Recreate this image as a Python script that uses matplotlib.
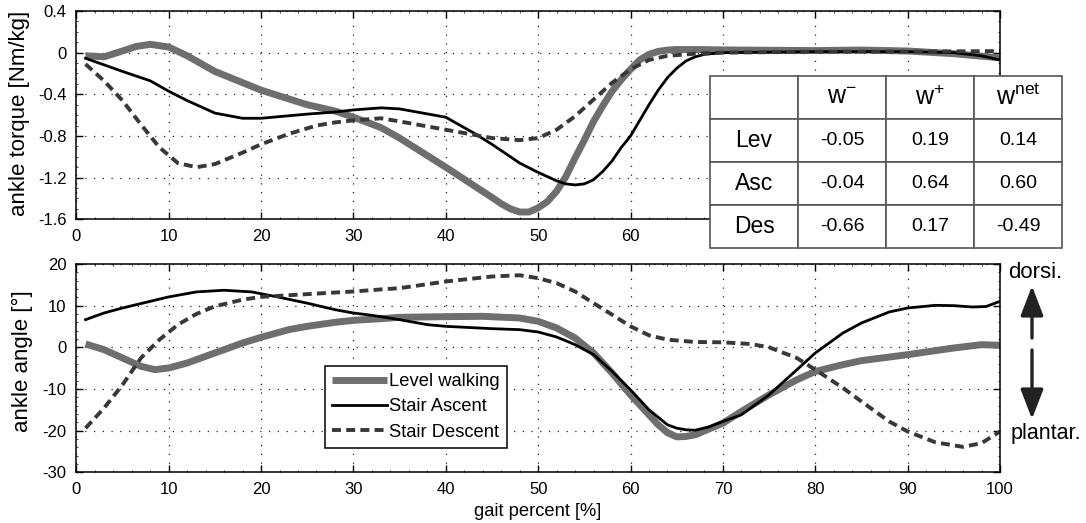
import matplotlib
matplotlib.use("Agg")
import matplotlib.pyplot as plt
from matplotlib.ticker import MultipleLocator
from matplotlib.patches import FancyArrowPatch

plt.rcParams['font.family'] = ['Liberation Sans', 'DejaVu Sans']
plt.rcParams['axes.unicode_minus'] = False
plt.rcParams['mathtext.fontset'] = 'custom'
plt.rcParams['mathtext.rm'] = 'Liberation Sans'

# ---------------- data ----------------
# top: ankle torque [Nm/kg]
lev_t_x = [1, 3, 5, 6.5, 8, 10, 12, 15, 20, 25, 28, 30, 33, 35, 40, 45, 46, 47, 48, 49, 50, 51, 52, 53, 54, 55, 56, 57, 58, 59, 60, 61, 62, 63, 64, 65, 67, 70, 80, 85, 90, 95, 100]
lev_t_y = [-0.03, -0.04, 0.016, 0.06, 0.08, 0.054, -0.03, -0.18, -0.36, -0.5, -0.56, -0.62, -0.72, -0.82, -1.10, -1.39, -1.45, -1.50, -1.53, -1.53, -1.49, -1.43, -1.33, -1.19, -1.01, -0.84, -0.66, -0.51, -0.37, -0.26, -0.16, -0.07, -0.016, 0.012, 0.025, 0.03, 0.03, 0.026, 0.02, 0.025, 0.016, -0.01, -0.05]

asc_t_x = [1, 5, 8, 10, 12, 15, 18, 20, 25, 28, 30, 33, 35, 40, 43, 45, 48, 50, 52, 53, 54, 55, 56, 57, 58, 59, 60, 61, 62, 63, 64, 65, 66, 67, 68, 70, 80, 90, 95, 98, 100]
asc_t_y = [-0.054, -0.18, -0.27, -0.37, -0.46, -0.58, -0.63, -0.63, -0.59, -0.57, -0.55, -0.53, -0.54, -0.62, -0.77, -0.88, -1.06, -1.15, -1.23, -1.26, -1.27, -1.26, -1.22, -1.14, -1.04, -0.91, -0.80, -0.65, -0.50, -0.36, -0.24, -0.15, -0.08, -0.04, -0.016, 0.0, 0.01, 0.01, 0.0, -0.03, -0.07]

des_t_x = [1, 3, 5, 7, 9, 11, 13, 15, 18, 20, 23, 26, 28, 30, 33, 35, 40, 45, 48, 50, 52, 54, 56, 58, 60, 62, 64, 67, 70, 80, 90, 100]
des_t_y = [-0.11, -0.27, -0.46, -0.69, -0.91, -1.06, -1.10, -1.07, -0.96, -0.88, -0.78, -0.70, -0.67, -0.65, -0.63, -0.66, -0.74, -0.82, -0.84, -0.82, -0.74, -0.61, -0.45, -0.29, -0.16, -0.07, -0.03, -0.01, 0.0, 0.01, 0.01, 0.015]

# bottom: ankle angle [deg]
lev_b_x = [1, 3, 5, 7, 8.5, 10, 12, 15, 18, 20, 23, 25, 28, 30, 33, 35, 40, 44, 48, 50, 52, 54, 56, 58, 60, 62, 63, 64, 65, 66, 67, 70, 72, 75, 78, 80, 83, 85, 90, 95, 98, 100]
lev_b_y = [0.8, -0.56, -2.56, -4.56, -5.36, -4.96, -3.76, -1.36, 1.04, 2.4, 4.24, 5.04, 6.0, 6.48, 6.88, 7.2, 7.36, 7.44, 7.04, 6.24, 4.64, 2.24, -1.36, -6.16, -11.4, -16.2, -18.6, -20.5, -21.5, -21.4, -21.0, -18.2, -15.4, -11.4, -7.8, -5.8, -4.16, -3.2, -1.76, -0.16, 0.64, 0.48]

asc_b_x = [1, 3, 5, 8, 10, 13, 16, 19, 22, 25, 28, 30, 32, 35, 38, 40, 45, 48, 50, 52, 54, 56, 58, 60, 62, 64, 65, 66, 67, 68.5, 70, 72, 75, 78, 80, 83, 85, 88, 90, 93, 95, 97, 98.5, 100]
asc_b_y = [6.64, 8.24, 9.44, 11.04, 12.1, 13.3, 13.7, 13.3, 12.0, 10.6, 9.04, 8.24, 7.68, 6.64, 5.44, 5.04, 4.48, 4.24, 3.68, 2.48, 0.64, -1.76, -5.76, -10.2, -15.0, -18.6, -19.4, -19.8, -19.9, -19.1, -17.8, -16.2, -11.4, -5.4, -1.36, 3.44, 5.84, 8.48, 9.44, 10.08, 10.0, 9.68, 9.8, 11.04]

des_b_x = [1, 3, 5, 7, 9, 11, 13, 15, 18, 20, 23, 26, 30, 33, 35, 40, 45, 48, 50, 52, 54, 56, 58, 60, 62, 64, 67, 70, 73, 75, 78, 80, 83, 85, 88, 90, 93, 96, 98, 100]
des_b_y = [-19.4, -14.6, -9.0, -2.56, 1.84, 5.44, 8.0, 9.84, 11.44, 12.1, 12.5, 12.9, 13.4, 13.9, 14.2, 15.8, 17.0, 17.3, 16.6, 15.4, 13.4, 10.6, 7.84, 5.04, 2.88, 1.84, 1.28, 1.2, 0.8, 0.0, -2.56, -5.36, -9.76, -13.0, -17.8, -20.2, -22.8, -23.9, -23.0, -20.2]

series_labels = ["Level walking", "Stair Ascent", "Stair Descent"]

table_cols = ["", r"$\mathregular{w^{-}}$", r"$\mathregular{w^{+}}$", r"$\mathregular{w^{net}}$"]
table_rows = ["Lev", "Asc", "Des"]
table_vals = [["-0.05", "0.19", "0.14"],
              ["-0.04", "0.64", "0.60"],
              ["-0.66", "0.17", "-0.49"]]

# ---------------- styles ----------------
W, H = 1086, 523
fig = plt.figure(figsize=(W / 100, H / 100), dpi=100)

def axes_px(left, top, right, bottom):
    return fig.add_axes([left / W, 1 - bottom / H, (right - left) / W, (bottom - top) / H])

ax1 = axes_px(76.3, 11, 1000, 219.3)
ax2 = axes_px(76.3, 264, 1000, 472.3)

lev_style = dict(color='#6e6e6e', lw=5.0, solid_capstyle='butt', solid_joinstyle='round')
asc_style = dict(color='black', lw=2.0, solid_joinstyle='round')
des_style = dict(color='#383838', lw=2.8, linestyle=(0, (2.3, 1.35)))

for ax, (lx, ly, ax_x, ay, dx, dy) in [
        (ax1, (lev_t_x, lev_t_y, asc_t_x, asc_t_y, des_t_x, des_t_y)),
        (ax2, (lev_b_x, lev_b_y, asc_b_x, asc_b_y, des_b_x, des_b_y))]:
    ax.plot(lx, ly, label=series_labels[0], **lev_style)
    ax.plot(ax_x, ay, label=series_labels[1], **asc_style)
    ax.plot(dx, dy, label=series_labels[2], **des_style)
    ax.set_xlim(0, 100)
    ax.xaxis.set_major_locator(MultipleLocator(10))
    ax.xaxis.set_minor_locator(MultipleLocator(2))
    ax.grid(True, which='major', linestyle=(0, (1, 6)), color='#222222', lw=0.9)
    ax.tick_params(which='major', direction='in', top=True, right=True, length=5, width=1,
                   labelsize=12, pad=7)
    ax.tick_params(which='minor', direction='in', top=True, right=True, length=1.5, width=0.5)
    for s in ax.spines.values():
        s.set_linewidth(1.1)
    ax.set_axisbelow(True)

ax1.set_ylim(-1.6, 0.4)
ax1.yaxis.set_minor_locator(MultipleLocator(0.1))
ax1.set_yticks([-1.6, -1.2, -0.8, -0.4, 0, 0.4])
ax1.set_yticklabels(["-1.6", "-1.2", "-0.8", "-0.4", "0", "0.4"])

ax2.set_ylim(-30, 20)
ax2.yaxis.set_major_locator(MultipleLocator(10))
ax2.yaxis.set_minor_locator(MultipleLocator(2))

fig.text(20 / W, 1 - 113 / H, "ankle torque [Nm/kg]", rotation=90, ha='center', va='center', fontsize=16)
fig.text(22 / W, 1 - 361 / H, "ankle angle [°]", rotation=90, ha='center', va='center', fontsize=16)
fig.text(538 / W, 1 - 511 / H, "gait percent [%]", ha='center', va='center', fontsize=13.2)

leg = ax2.legend(loc='lower left', bbox_to_anchor=((325 - 76.3) / 923.7, (472.3 - 448) / 208.3),
                 borderaxespad=0, fontsize=13.2, handlelength=3.0, handletextpad=0.1,
                 labelspacing=0.45, borderpad=0.4, fancybox=False, framealpha=1,
                 edgecolor='black')
leg.get_frame().set_linewidth(1.1)

# table
tax = axes_px(710, 76, 1062, 248)
tax.axis('off')
cells = [table_cols] + [[r] + v for r, v in zip(table_rows, table_vals)]
tbl = tax.table(cellText=cells, bbox=[0, 0, 1, 1], cellLoc='center')
tbl.auto_set_font_size(False)
for (r, c), cell in tbl.get_celld().items():
    cell.set_edgecolor('#555555')
    cell.set_linewidth(1.2)
    cell.set_facecolor('white')
    if r == 0:
        cell.get_text().set_fontsize(18)
    elif c == 0:
        cell.get_text().set_fontsize(16.5)
    else:
        cell.get_text().set_fontsize(14)

# dorsi / plantar annotation
fig.text(1035 / W, 1 - 273 / H, "dorsi.", ha='center', va='center', fontsize=16)
fig.text(1046 / W, 1 - 433 / H, "plantar.", ha='center', va='center', fontsize=15.5)
arrow_kw = dict(arrowstyle='-|>,head_length=1.3,head_width=0.5', color='#222222', lw=2.4,
                shrinkA=0, shrinkB=0)
fig.add_artist(FancyArrowPatch((1032 / W, 1 - 338 / H), (1032 / W, 1 - 286 / H),
               transform=fig.transFigure, mutation_scale=14, **arrow_kw))
fig.add_artist(FancyArrowPatch((1032 / W, 1 - 350 / H), (1032 / W, 1 - 419 / H),
               transform=fig.transFigure, mutation_scale=14, **arrow_kw))

fig.savefig("out.png", dpi=100)
